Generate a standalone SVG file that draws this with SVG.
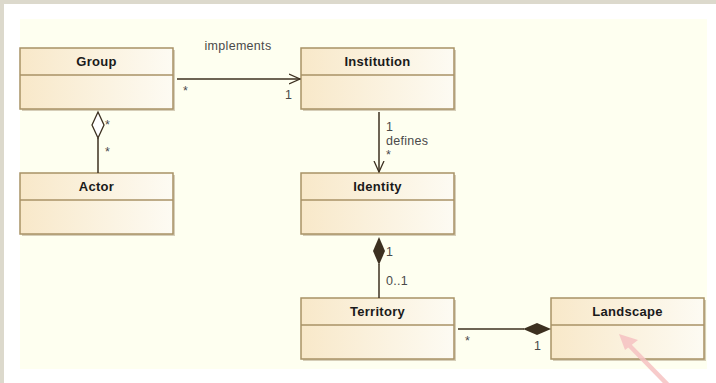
<svg xmlns="http://www.w3.org/2000/svg" width="716" height="383" viewBox="0 0 716 383">
<defs>
<linearGradient id="boxfill" x1="0" y1="0" x2="1" y2="0">
<stop offset="0" stop-color="#f8e8c9"/>
<stop offset="1" stop-color="#fdfbf3"/>
</linearGradient>
<marker id="open" viewBox="0 0 12 12" refX="11" refY="6" markerWidth="12" markerHeight="12" markerUnits="userSpaceOnUse" orient="auto">
<path d="M0,1 L11,6 L0,11" fill="none" stroke="#3c3020" stroke-width="1.3"/>
</marker>
</defs>
<style>
.box rect.body{fill:url(#boxfill);stroke:#a89266;stroke-width:1.5}
.box rect.shadow{fill:#d6ceb8}
.box line{stroke:#a89266;stroke-width:1.5}
.box text{font-family:"Liberation Sans",Arial,sans-serif;font-size:13px;letter-spacing:0.3px;font-weight:bold;fill:#1a1a1a;text-anchor:middle}
.conn line{stroke:#3c3020;stroke-width:1.5}
.lbl{font-family:"Liberation Sans",Arial,sans-serif;font-size:12.5px;letter-spacing:0.3px;fill:#4a4a4a}
</style>
<rect x="0" y="0" width="716" height="383" fill="#dcd9cc"/>
<rect x="4" y="4" width="712" height="379" fill="#ffffff"/>
<rect x="20" y="19" width="687" height="350" fill="#fefff0"/>

<g id="group" class="box">
<rect class="shadow" x="22" y="50" width="153" height="61"/>
<rect class="body" x="20" y="48" width="153" height="61"/>
<line x1="20" y1="75" x2="173" y2="75"/>
<text x="96.5" y="65.5">Group</text>
</g>
<g id="institution" class="box">
<rect class="shadow" x="303" y="50" width="153" height="61"/>
<rect class="body" x="301" y="48" width="153" height="61"/>
<line x1="301" y1="75" x2="454" y2="75"/>
<text x="377.5" y="65.5">Institution</text>
</g>
<g id="actor" class="box">
<rect class="shadow" x="22" y="175" width="153" height="61"/>
<rect class="body" x="20" y="173" width="153" height="61"/>
<line x1="20" y1="200" x2="173" y2="200"/>
<text x="96.5" y="190.5">Actor</text>
</g>
<g id="identity" class="box">
<rect class="shadow" x="303" y="175" width="153" height="61"/>
<rect class="body" x="301" y="173" width="153" height="61"/>
<line x1="301" y1="200" x2="454" y2="200"/>
<text x="377.5" y="190.5">Identity</text>
</g>
<g id="territory" class="box">
<rect class="shadow" x="303" y="300" width="153" height="61"/>
<rect class="body" x="301" y="298" width="153" height="61"/>
<line x1="301" y1="325" x2="454" y2="325"/>
<text x="377.5" y="315.5">Territory</text>
</g>
<g id="landscape" class="box">
<rect class="shadow" x="553" y="300" width="153" height="61"/>
<rect class="body" x="551" y="298" width="153" height="61"/>
<line x1="551" y1="325" x2="704" y2="325"/>
<text x="627.5" y="315.5">Landscape</text>
</g>

<g id="connectors" class="conn">
<line x1="177" y1="79" x2="300" y2="79" marker-end="url(#open)"/>
<text class="lbl" x="238" y="50" text-anchor="middle">implements</text>
<text class="lbl" x="183" y="95">*</text>
<text class="lbl" x="285" y="99">1</text>

<line x1="98" y1="138" x2="98" y2="173"/>
<path d="M98,112 L104,125 L98,138 L92,125 Z" fill="#ffffff" stroke="#3c3020" stroke-width="1.3"/>
<text class="lbl" x="105" y="129">*</text>
<text class="lbl" x="105" y="156">*</text>

<line x1="379" y1="112" x2="379" y2="172" marker-end="url(#open)"/>
<text class="lbl" x="386" y="131">1</text>
<text class="lbl" x="386" y="145">defines</text>
<text class="lbl" x="386" y="159">*</text>

<line x1="379" y1="264" x2="379" y2="298"/>
<path d="M379,237 L385,251 L379,265 L373,251 Z" fill="#3c3020"/>
<text class="lbl" x="386" y="256">1</text>
<text class="lbl" x="386" y="285">0..1</text>

<line x1="458" y1="329" x2="524" y2="329"/>
<path d="M523,329 L537,323 L551,329 L537,335 Z" fill="#3c3020"/>
<text class="lbl" x="465" y="345">*</text>
<text class="lbl" x="534" y="350">1</text>
</g>

<g id="pointer" opacity="0.85">
<line x1="668" y1="385" x2="626" y2="342" stroke="#f6c2c2" stroke-width="4.5"/>
<path d="M619,334 L638,340 L625,350 Z" fill="#f6c2c2"/>
</g>
</svg>
